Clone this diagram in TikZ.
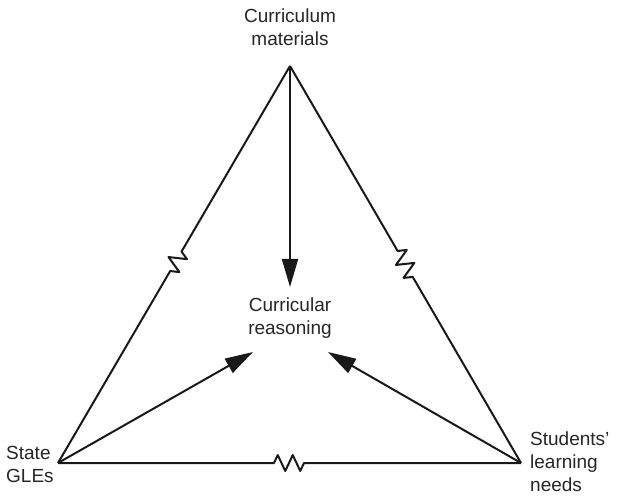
\documentclass[tikz,border=0pt]{standalone}
\usepackage{fontspec}
\setmainfont{Liberation Sans}
\usetikzlibrary{arrows.meta,decorations.pathmorphing}
\begin{document}
\begin{tikzpicture}[x=1pt,y=-1pt,
  edge/.style={line width=2pt,color=black!90,line join=round},
  wig/.style={edge,decorate,decoration={zigzag,segment length=15pt,amplitude=8.5pt,pre length=#1,post length=#1}},
  arr/.style={edge,-{Triangle[length=28pt,width=16pt]}},
  lbl/.style={font=\fontsize{19}{23}\selectfont,inner sep=0pt,text=black!85}]
\useasboundingbox (0,0) rectangle (618,502);
\coordinate (T) at (290,66);
\coordinate (L) at (58,463);
\coordinate (R) at (521,463);
\coordinate (ct) at (290,287);
\coordinate (lt) at (253,352);
\coordinate (rt) at (328,352);
\node[lbl,align=center,anchor=north] (top) at (290,9) {Curriculum\\materials};
\node[lbl,align=center,anchor=north] (mid) at (290,298) {Curricular\\reasoning};
\node[lbl,align=left,anchor=north west] (sg) at (6,446) {State\\GLEs};
\node[lbl,align=left,anchor=north west] (sl) at (530,432) {Students’\\learning\\needs};
\draw[wig=215pt] (T) -- (L);
\draw[wig=214pt] (T) -- (R);
\draw[edge,decorate,decoration={zigzag,segment length=15pt,amplitude=8pt,pre length=216pt,post length=217pt}] (L) -- (R);
\draw[arr] (T) -- (ct);
\draw[arr] (L) -- (lt);
\draw[arr] (R) -- (rt);
\end{tikzpicture}
\end{document}
